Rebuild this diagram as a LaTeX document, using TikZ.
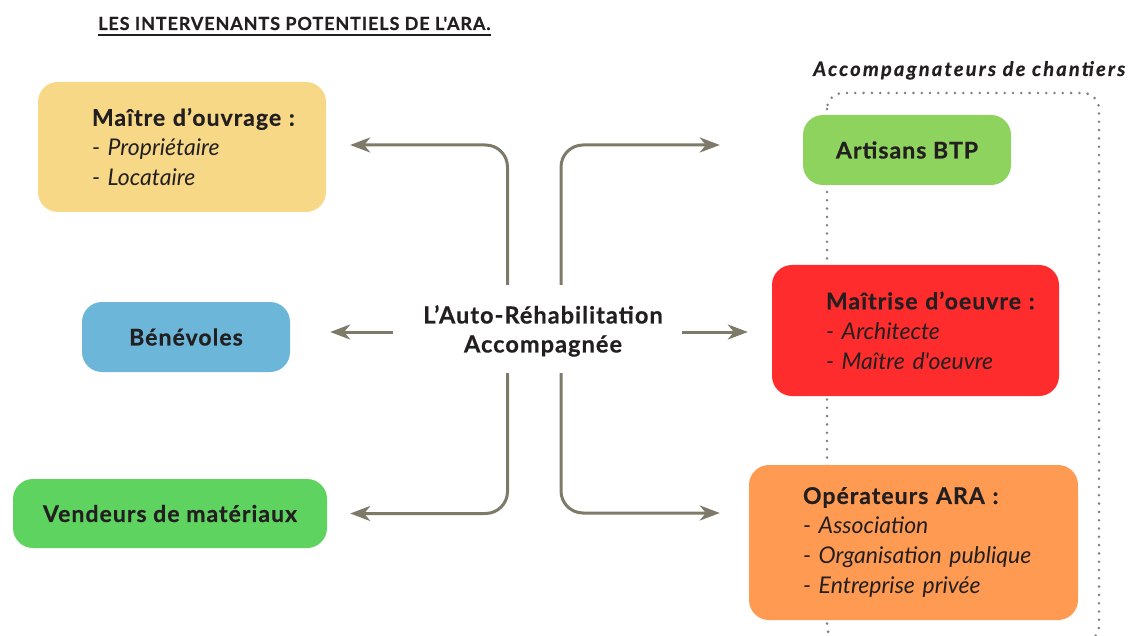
\documentclass[tikz,border=0pt]{standalone}
\usepackage{fontspec}
\newfontfamily\ptf{Lato}[BoldFeatures={FakeBold=0.6}]
\newfontfamily\ptb{Lato}[LetterSpace=4.5,BoldFeatures={FakeBold=0.6}]
\newfontfamily\ptt{Lato}[LetterSpace=5,BoldFeatures={FakeBold=0.6}]
\newfontfamily\pta{Lato}[LetterSpace=11,BoldItalicFeatures={FakeBold=0.6}]
\usetikzlibrary{arrows.meta}
\definecolor{cyel}{HTML}{F6D886}
\definecolor{cblue}{HTML}{6CB6DA}
\definecolor{cgreen}{HTML}{5FD35F}
\definecolor{cgreenb}{HTML}{8ED35E}
\definecolor{cred}{HTML}{FE2C2C}
\definecolor{corange}{HTML}{FF9A52}
\definecolor{carr}{HTML}{7E7A69}
\definecolor{cdot}{HTML}{808080}
\definecolor{ctxt}{HTML}{231F20}
\newcommand{\Ind}{\hspace*{44pt}}
\newcommand{\hd}[1]{{\ptb\bfseries #1}}
\begin{document}
\begin{tikzpicture}[x=1pt,y=-1pt,
  every node/.style={font=\ptf, text=ctxt},
  boxl/.style={rounded corners=20pt, inner xsep=10pt, inner ysep=0pt, align=left,
    font=\ptf\fontsize{23}{30}\selectfont},
  boxc/.style={rounded corners=20pt, inner sep=0pt, align=center,
    font=\ptb\bfseries\fontsize{23}{30}\selectfont},
  arr/.style={draw=carr, line width=3pt, rounded corners=22pt,
    -{Stealth[length=20pt,width=15pt,inset=6pt]}},
  dotline/.style={draw=cdot, line width=2.8pt, line cap=round,
    dash pattern=on 0pt off 8.3pt, rounded corners=16pt}]
\useasboundingbox (0,0) rectangle (1140,636);
\clip (0,0) rectangle (1140,636);
\fill[white] (0,0) rectangle (1140,636);

% title
\node[anchor=base west, inner sep=0pt, font=\ptt\bfseries\fontsize{18}{20}\selectfont] (title) at (98,30) {LES INTERVENANTS POTENTIELS DE L'ARA.};
\draw[ctxt, line width=2pt] ([yshift=-5pt]title.base west) -- ([yshift=-5pt]title.base east);

% dotted group
\draw[dotline] (827,93) rectangle (1099,642);
\node[anchor=base west, inner sep=0pt, font=\pta\bfseries\itshape\fontsize{20}{22}\selectfont] (acc) at (813,76) {Accompagnateurs de chantiers};

% boxes
\node[boxl, fill=cyel, minimum width=288pt, minimum height=130pt, text width=268pt] (mo) at (182,147)
  {\Ind\hd{Maître d’ouvrage :}\\\Ind\textit{- Propriétaire}\\\Ind\textit{- Locataire}};
\node[boxc, fill=cblue, minimum width=208pt, minimum height=70pt] (ben) at (186,337) {Bénévoles};
\node[boxc, fill=cgreen, minimum width=314pt, minimum height=69pt] (vm) at (170,513.5) {Vendeurs de matériaux};
\node[boxc, fill=cgreenb, minimum width=208pt, minimum height=70pt] (ab) at (907,150) {Artisans BTP};
\node[boxl, fill=cred, minimum width=287pt, minimum height=131pt, text width=267pt] (mdo) at (915.5,330.5)
  {\Ind\hd{Maîtrise d’oeuvre :}\\\Ind\textit{- Architecte}\\\Ind\textit{- Maître d'oeuvre}};
\node[boxl, fill=corange, minimum width=329pt, minimum height=155pt, text width=309pt] (op) at (913.5,542.5)
  {\Ind\hd{Opérateurs ARA :}\\\Ind\textit{- Association}\\\Ind\textit{- Organisation publique}\\\Ind\textit{- Entreprise privée}};

% centre
\node[align=center, inner sep=0pt, font=\ptb\bfseries\fontsize{23.5}{29}\selectfont] (ctr) at (543,331)
  {L’Auto-Réhabilitation\\Accompagnée};

\coordinate (s1) at ([shift={(-35.5,-46)}]ctr.center);
\coordinate (s2) at ([shift={(18,-46)}]ctr.center);
\coordinate (s3) at ([shift={(-35.5,42)}]ctr.center);
\coordinate (s4) at ([shift={(18,42)}]ctr.center);
\coordinate (s5) at ([shift={(-150,1)}]ctr.center);
\coordinate (s6) at ([shift={(139,1)}]ctr.center);

\draw[arr] (s1) |- ([shift={(24,-2)}]mo.east);
\draw[arr] (s2) |- ([shift={(-83,-5)}]ab.west);
\draw[arr] (s3) |- ([shift={(23,0)}]vm.east);
\draw[arr] (s4) |- ([shift={(-29,-29.5)}]op.west);
\draw[arr] (s5) -- ([shift={(40,-5)}]ben.east);
\draw[arr] (s6) -- ([shift={(-24,1.5)}]mdo.west);
\end{tikzpicture}
\end{document}
